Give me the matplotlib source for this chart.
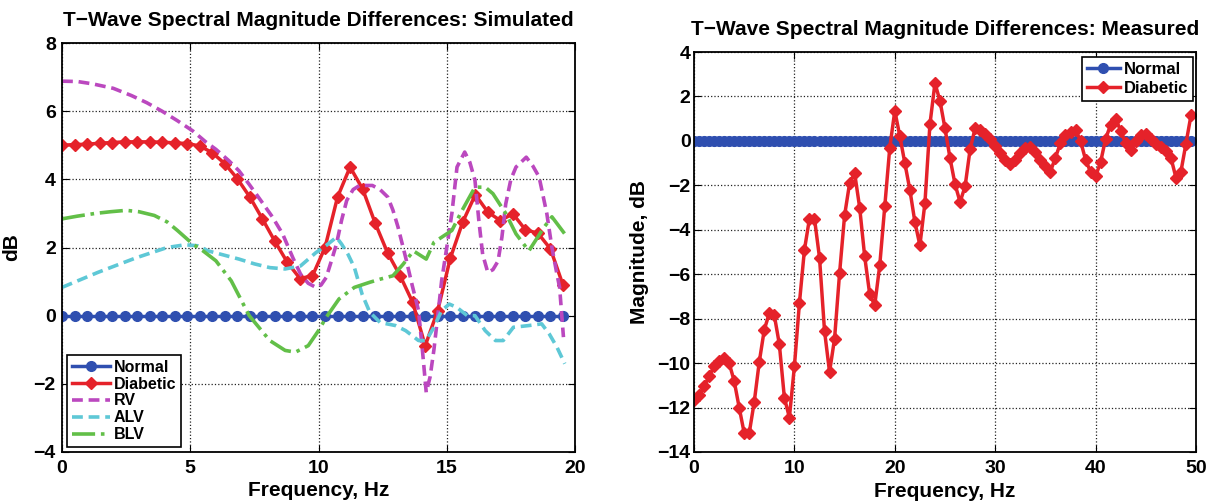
import numpy as np
import matplotlib.pyplot as plt

plt.rcParams['font.family'] = ['Liberation Sans', 'DejaVu Sans']
plt.rcParams['font.weight'] = 'bold'

# ---- simulated panel: 41 bins of 1000/2048 Hz
sim_freq = np.arange(41) * 1000.0 / 2048
sim_normal = np.zeros(41)
sim_diabetic = [5.0, 5.02, 5.03, 5.06, 5.08, 5.1, 5.1, 5.1, 5.09, 5.07,
                5.05, 4.98, 4.78, 4.46, 4.02, 3.48, 2.84, 2.18, 1.56, 1.09,
                1.17, 2.0, 3.48, 4.36, 3.72, 2.72, 1.84, 1.17, 0.39, -0.88,
                0.15, 1.68, 2.75, 3.55, 3.04, 2.79, 2.99, 2.52, 2.42, 1.96,
                0.9]

rv_freq = [0, 0.6, 1.2, 2.0, 2.7, 3.3, 3.9, 4.5, 5.1, 5.6, 6.0, 6.5, 6.9, 7.3,
           7.75, 8.2, 8.6, 9.0, 9.3, 9.6, 9.9, 10.1, 10.3, 10.5, 10.7, 10.9,
           11.1, 11.35, 11.6, 12.1, 12.4, 12.7, 12.9, 13.1, 13.4, 13.65, 13.9,
           14.05, 14.2, 14.35, 14.5, 14.65, 14.8, 15.0, 15.2, 15.4, 15.7, 15.9,
           16.1, 16.25, 16.4, 16.6, 16.8, 17.0, 17.15, 17.3, 17.5, 17.7, 18.1,
           18.35, 18.6, 18.9, 19.1, 19.3, 19.4, 19.55]
rv_db = [6.88, 6.87, 6.8, 6.67, 6.46, 6.25, 6.0, 5.72, 5.42, 5.1, 4.88, 4.55,
         4.25, 3.85, 3.38, 2.9, 2.4, 1.7, 1.22, 0.95, 0.83, 0.9, 1.12, 1.6, 2.1,
         2.8, 3.38, 3.7, 3.82, 3.82, 3.7, 3.48, 3.1, 2.6, 1.7, 0.9, 0.15, -1.0,
         -2.25, -1.8, -1.0, 0.0, 1.02, 2.0, 3.0, 4.36, 4.8, 4.5, 3.97, 2.8, 1.8,
         1.27, 1.35, 1.6, 2.3, 3.28, 4.0, 4.36, 4.65, 4.4, 4.07, 3.0, 2.0, 1.2,
         0.83, -0.63]

alv_freq = [0, 0.7, 1.4, 2.2, 2.9, 3.5, 4.1, 4.8, 5.3, 5.7, 6.3, 6.9, 7.5, 8.1,
            8.7, 9.3, 9.9, 10.3, 10.7, 10.9, 11.15, 11.4, 11.7, 12.0, 12.4,
            13.0, 13.4, 13.9, 14.2, 14.5, 14.8, 15.1, 15.4, 15.8, 16.1, 16.5,
            16.9, 17.2, 17.6, 18.2, 18.7, 19.0, 19.3, 19.6]
alv_db = [0.83, 1.05, 1.27, 1.5, 1.7, 1.85, 2.0, 2.08, 2.05, 1.9, 1.78, 1.66,
          1.52, 1.41, 1.37, 1.46, 1.85, 2.06, 2.3, 2.1, 1.8, 1.41, 0.63, 0.1,
          -0.2, -0.29, -0.44, -0.73, -0.73, -0.34, 0.15, 0.34, 0.24, 0.0, 0.0,
          -0.44, -0.73, -0.73, -0.34, -0.29, -0.24, -0.54, -0.93, -1.41]

blv_freq = [0, 0.6, 1.3, 1.9, 2.5, 3.0, 3.6, 4.1, 4.5, 4.8, 5.1, 5.5, 6.0, 6.6,
            7.3, 8.1, 8.7, 9.1, 9.6, 10.0, 10.3, 10.8, 11.4, 12.0, 12.4, 12.9,
            13.3, 13.7, 14.2, 14.5, 14.8, 15.2, 15.6, 16.1, 16.5, 16.8, 17.3,
            17.7, 18.2, 18.8, 19.1, 19.6]
blv_db = [2.84, 2.92, 3.0, 3.05, 3.09, 3.05, 2.94, 2.75, 2.5, 2.3, 2.1, 1.9,
          1.61, 1.02, 0.0, -0.73, -1.02, -1.07, -0.88, -0.44, -0.05, 0.49, 0.83,
          0.98, 1.07, 1.17, 1.51, 1.9, 1.66, 2.15, 2.3, 2.5, 3.09, 3.77, 3.77,
          3.58, 3.0, 2.4, 1.9, 2.6, 2.9, 2.4]

# ---- measured panel: 0.5 Hz bins
meas_freq = np.arange(100) * 0.5
meas_normal = np.zeros(100)
meas_diabetic = [-11.68, -11.45, -11.05, -10.6, -10.15, -9.9, -9.75, -10.0, -10.8, -12.0,
                 -13.15, -13.15, -11.75, -9.95, -8.5, -7.75, -7.85, -9.15, -11.55, -12.45,
                 -10.15, -7.3, -4.9, -3.5, -3.5, -5.25, -8.55, -10.4, -8.9, -5.95,
                 -3.35, -1.9, -1.45, -3.0, -5.2, -6.9, -7.4, -5.6, -2.95, -0.3,
                 1.35, 0.22, -1.0, -2.2, -3.65, -4.7, -2.8, 0.75, 2.6, 1.8,
                 0.56, -0.78, -1.95, -2.75, -2.05, -0.38, 0.57, 0.5, 0.3, 0.1,
                 -0.25, -0.55, -0.85, -1.05, -0.86, -0.56, -0.33, -0.28, -0.5, -0.85,
                 -1.15, -1.38, -0.75, -0.1, 0.25, 0.42, 0.5, 0.0, -0.85, -1.4,
                 -1.6, -0.95, 0.1, 0.72, 1.0, 0.45, -0.1, -0.4, 0.0, 0.27,
                 0.3, 0.1, -0.12, -0.28, -0.45, -0.75, -1.65, -1.38, -0.12, 1.15]

BLUE = '#2f4fb0'
RED = '#e5222a'


def style_axes(ax, ypad):
    ax.grid(True, linestyle=':', color='#222222', linewidth=0.9)
    ax.tick_params(direction='in', top=True, right=True, length=5, labelsize=14)
    ax.tick_params(axis='x', pad=5.5)
    ax.tick_params(axis='y', pad=ypad)
    for s in ax.spines.values():
        s.set_linewidth(1.3)
    for lab in ax.get_xticklabels() + ax.get_yticklabels():
        lab.set_fontweight('bold')


fig = plt.figure(figsize=(12.2, 5.04), dpi=100)

# ---- left: simulated
ax1 = fig.add_axes([62 / 1220, 52 / 504, 513 / 1220, 409 / 504])
ax1.plot(sim_freq, sim_normal, '-o', color=BLUE, lw=2.5, ms=7, label='Normal')
ax1.plot(sim_freq, sim_diabetic, '-D', color=RED, lw=2.5, ms=6.3, label='Diabetic')
ax1.plot(rv_freq, rv_db, '--', color='#bb48bf', lw=2.6, dashes=(3, 1.6), label='RV')
ax1.plot(alv_freq, alv_db, '--', color='#5ec8d6', lw=2.6, dashes=(3, 1.6), label='ALV')
ax1.plot(blv_freq, blv_db, '-.', color='#62bf48', lw=2.6, label='BLV')
ax1.set_xlim(0, 20)
ax1.set_ylim(-4, 8)
ax1.set_xticks([0, 5, 10, 15, 20])
ax1.set_yticks([-4, -2, 0, 2, 4, 6, 8])
style_axes(ax1, 4.5)
ax1.set_title('T\u2212Wave Spectral Magnitude Differences: Simulated',
              fontsize=15, fontweight='bold', pad=12)
ax1.set_xlabel('Frequency, Hz', fontsize=15, fontweight='bold')
ax1.set_ylabel('dB', fontsize=15, fontweight='bold')
ax1.xaxis.set_label_coords(0.5, -0.072)
ax1.yaxis.set_label_coords(-0.08, 0.5)
leg1 = ax1.legend(loc='lower left', bbox_to_anchor=(0.01, 0.012), borderaxespad=0,
                  fancybox=False, framealpha=1, edgecolor='black',
                  prop={'size': 11.5, 'weight': 'bold'}, handlelength=2.4,
                  labelspacing=0.12, handletextpad=0.2, borderpad=0.3)
leg1.get_frame().set_linewidth(1.2)

# ---- right: measured
ax2 = fig.add_axes([694 / 1220, 52 / 504, 502 / 1220, 400 / 504])
ax2.plot(meas_freq, meas_normal, '-o', color=BLUE, lw=2.5, ms=7, label='Normal')
ax2.plot(meas_freq, meas_diabetic, '-D', color=RED, lw=2.5, ms=6.3, label='Diabetic')
ax2.set_xlim(0, 50)
ax2.set_ylim(-14, 4)
ax2.set_xticks([0, 10, 20, 30, 40, 50])
ax2.set_yticks(np.arange(-14, 5, 2))
style_axes(ax2, 2.5)
ax2.set_title('T\u2212Wave Spectral Magnitude Differences: Measured',
              fontsize=15, fontweight='bold', pad=12)
ax2.set_xlabel('Frequency, Hz', fontsize=15, fontweight='bold')
ax2.set_ylabel('Magnitude, dB', fontsize=15, fontweight='bold')
ax2.xaxis.set_label_coords(0.5, -0.074)
ax2.yaxis.set_label_coords(-0.09, 0.5)
leg2 = ax2.legend(loc='upper right', bbox_to_anchor=(0.994, 0.988), borderaxespad=0,
                  fancybox=False, framealpha=1, edgecolor='black',
                  prop={'size': 12, 'weight': 'bold'}, handlelength=2.0,
                  labelspacing=0.25, handletextpad=0.2, borderpad=0.3)
leg2.get_frame().set_linewidth(1.2)

fig.savefig('out.png', dpi=100)
